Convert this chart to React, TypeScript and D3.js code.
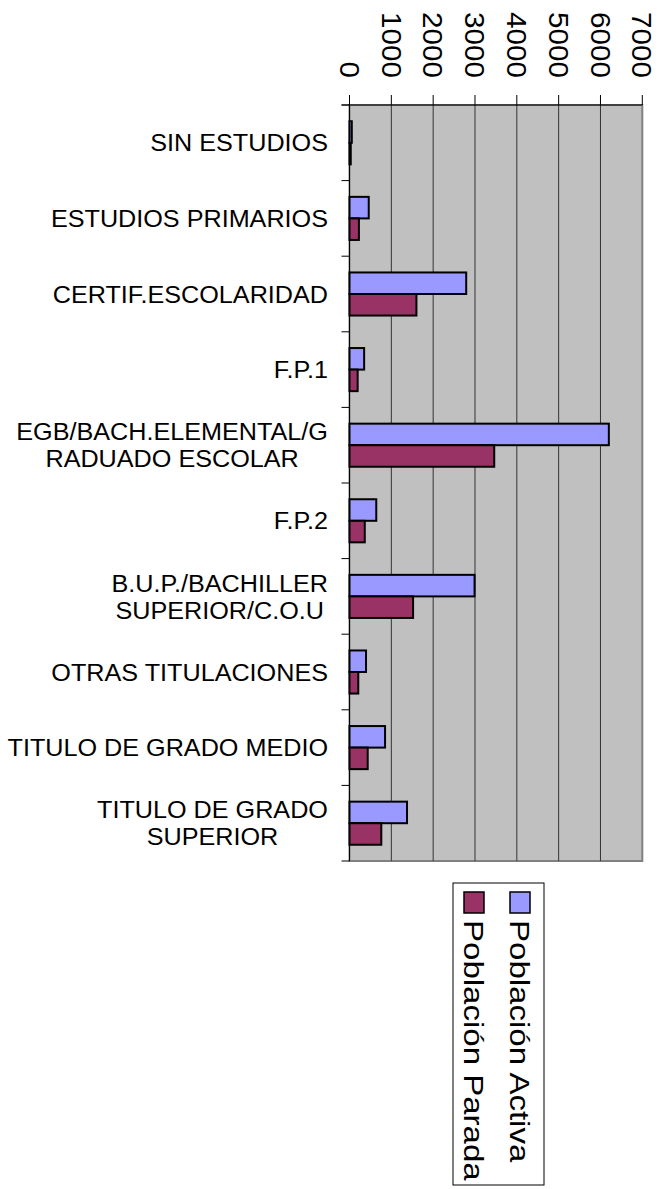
import React from "react";
import * as d3 from "d3";

const categories = [
  "SIN ESTUDIOS",
  "ESTUDIOS PRIMARIOS",
  "CERTIF.ESCOLARIDAD",
  "F.P.1",
  "EGB/BACH.ELEMENTAL/G\nRADUADO ESCOLAR",
  "F.P.2",
  "B.U.P./BACHILLER\nSUPERIOR/C.O.U",
  "OTRAS TITULACIONES",
  "TITULO DE GRADO MEDIO",
  "TITULO DE GRADO\nSUPERIOR",
];
const activa = [55, 460, 2790, 350, 6200, 640, 2990, 395, 850, 1375];
const parada = [30, 225, 1600, 195, 3460, 365, 1520, 210, 435, 760];
const seriesNames = ["Población Activa", "Población Parada"];
const seriesColors = ["#9999FF", "#993366"];
const tickValues = [0, 1000, 2000, 3000, 4000, 5000, 6000, 7000];

const W = 663;
const H = 1189;
const left = 349.5;
const right = 642.3;
const top = 105;
const bottom = 861;
const FONT = "'Liberation Sans', Arial, Helvetica, sans-serif";
const labelSize = 24;
const labelStretch = 1.05;

let measureCtx: CanvasRenderingContext2D | null = null;
function measure(t: string): number {
  if (!measureCtx) {
    const c = document.createElement("canvas");
    measureCtx = c.getContext("2d");
  }
  if (!measureCtx) return t.length * labelSize * 0.6 * labelStretch;
  measureCtx.font = `${labelSize}px "Liberation Sans"`;
  return measureCtx.measureText(t).width * labelStretch;
}

export default function App() {
  const x = d3.scaleLinear().domain([0, 7000]).range([left, right]);
  const y = d3
    .scaleBand<string>()
    .domain(categories)
    .range([top, bottom])
    .paddingInner(0.43)
    .paddingOuter(0.215);
  const step = y.step();
  const inner = d3
    .scaleBand<number>()
    .domain([0, 1])
    .range([0, y.bandwidth()]);
  const series = [activa, parada];

  const labelRight = 328;
  const lineH = 27;

  return (
    <svg
      width={W}
      height={H}
      style={{ position: "absolute", left: 0, top: 0, background: "#fff" }}
      fontFamily={FONT}
    >
      {/* plot area */}
      <rect x={left} y={top} width={right - left} height={bottom - top} fill="#C0C0C0" stroke="#808080" strokeWidth={2} />
      {/* gridlines */}
      {tickValues.slice(1, -1).map((t) => (
        <line key={"g" + t} x1={x(t)} x2={x(t)} y1={top} y2={bottom} stroke="#333" strokeWidth={1} />
      ))}
      {/* bars */}
      {categories.map((c, i) =>
        series.map((s, si) => (
          <rect
            key={c + si}
            x={x(0)}
            y={(y(c) as number) + (inner(si) as number)}
            width={x(s[i]) - x(0)}
            height={inner.bandwidth()}
            fill={seriesColors[si]}
            stroke="#000"
            strokeWidth={2}
          />
        ))
      )}
      {/* top axis */}
      <line x1={left - 8} x2={right} y1={top} y2={top} stroke="#000" strokeWidth={1} />
      {tickValues.map((t) => (
        <line key={"t" + t} x1={x(t)} x2={x(t)} y1={top - 10} y2={top} stroke="#000" strokeWidth={1} />
      ))}
      {tickValues.map((t) => (
        <text
          key={"tl" + t}
          transform={`translate(${x(t)},78) rotate(90) scale(1.06,1)`}
          textAnchor="end"
          dy="0.35em"
          fontSize={28}
          fill="#000"
        >
          {t}
        </text>
      ))}
      {/* left axis */}
      <line x1={left} x2={left} y1={top} y2={bottom} stroke="#000" strokeWidth={1} />
      {d3.range(categories.length + 1).map((i) => (
        <line key={"ct" + i} x1={left - 8} x2={left} y1={top + i * step} y2={top + i * step} stroke="#000" strokeWidth={1} />
      ))}
      {categories.map((c) => {
        const lines = c.split("\n");
        const cy = (y(c) as number) + y.bandwidth() / 2;
        const n = lines.length;
        if (n === 1) {
          return (
            <text
              key={"l" + c}
              transform={`translate(${labelRight},${cy}) scale(${labelStretch},1)`}
              dy="0.36em"
              textAnchor="end"
              fontSize={labelSize}
              fill="#000"
            >
              {c}
            </text>
          );
        }
        const w = Math.max(...lines.map(measure));
        const cx = labelRight - w / 2;
        return (
          <g key={"l" + c}>
            {lines.map((ln, li) => (
              <text
                key={li}
                transform={`translate(${cx},${cy + (li - (n - 1) / 2) * lineH}) scale(${labelStretch},1)`}
                dy="0.36em"
                textAnchor="middle"
                fontSize={labelSize}
                fill="#000"
              >
                {ln}
              </text>
            ))}
          </g>
        );
      })}
      {/* legend */}
      <rect x={453} y={883} width={91} height={302} fill="#fff" stroke="#000" strokeWidth={1} />
      {seriesNames.map((name, si) => {
        const bx = si === 0 ? 510 : 464;
        return (
          <g key={"lg" + si}>
            <rect x={bx} y={892} width={20} height={21} fill={seriesColors[si]} stroke="#000" strokeWidth={1.5} />
            <text
              transform={`translate(${bx},920) rotate(90) scale(1.18,1)`}
              textAnchor="start"
              fontSize={28}
              fill="#000"
            >
              {name}
            </text>
          </g>
        );
      })}
    </svg>
  );
}
